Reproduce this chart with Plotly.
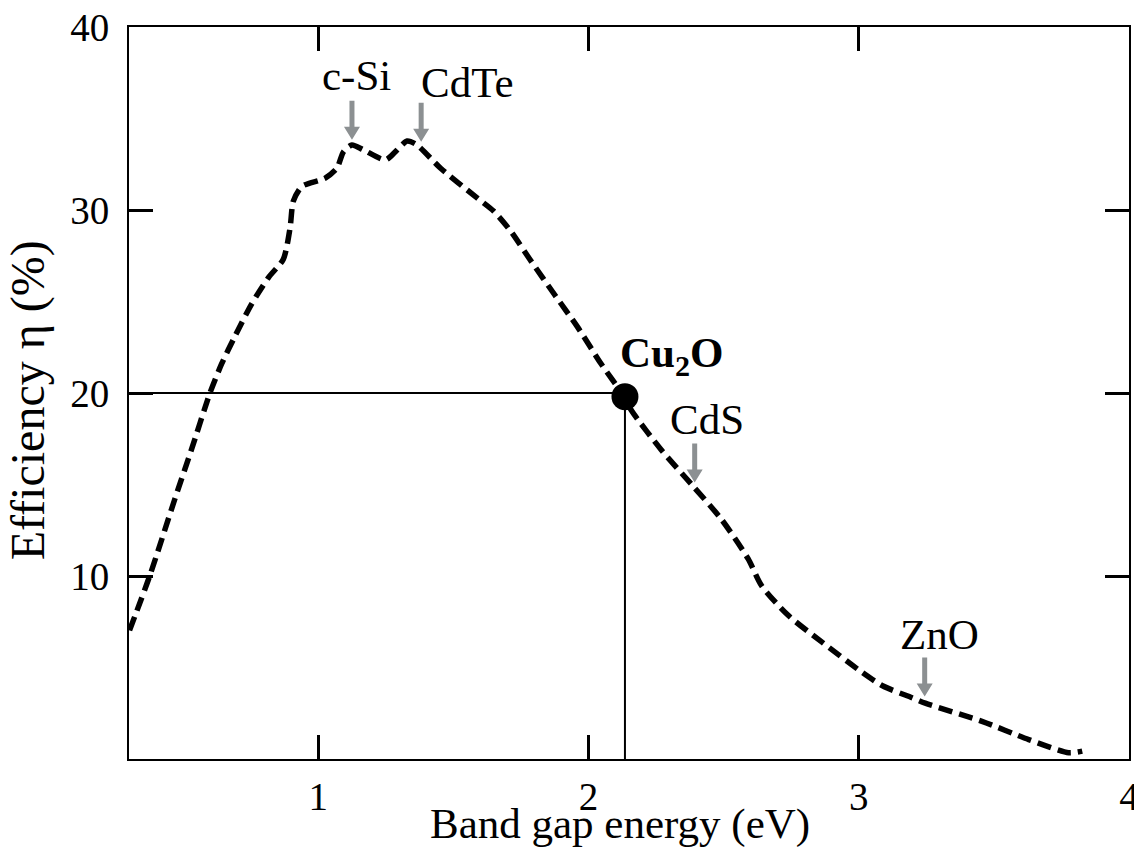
import plotly.graph_objects as go

# Efficiency limit vs band gap
gap_ev = [0.302, 0.377, 0.469, 0.531, 0.599, 0.643, 0.692, 0.754, 0.816, 0.871,
          0.896, 0.908, 0.940, 1.026, 1.069, 1.094, 1.125, 1.168, 1.249, 1.286,
          1.329, 1.366, 1.453, 1.589, 1.650, 1.712, 1.787, 1.873, 1.960, 2.046,
          2.133, 2.158, 2.269, 2.387, 2.492, 2.591, 2.640, 2.739, 2.863, 3.011,
          3.088, 3.197, 3.246, 3.456, 3.629, 3.777, 3.827]
efficiency = [7.03, 10.02, 14.18, 16.90, 19.98, 21.60, 23.10, 24.87, 26.31, 27.31,
              29.03, 30.48, 31.29, 31.74, 32.28, 33.19, 33.55, 33.28, 32.74, 33.19,
              33.77, 33.55, 32.28, 30.65, 29.93, 28.85, 27.22, 25.41, 23.60, 21.61,
              19.79, 19.07, 16.90, 14.91, 13.10, 10.93, 9.48, 7.85, 6.40, 4.75,
              4.00, 3.35, 3.05, 2.06, 1.06, 0.34, 0.43]

# Cu2O highlighted point
cu2o_gap = 2.135
cu2o_eff = 19.8

# Materials marked with arrows
materials = ["c-Si", "CdTe", "CdS", "ZnO"]
material_gap = [1.125, 1.381, 2.393, 3.244]
material_eff = [33.84, 33.73, 15.11, 3.42]
label_x = [1.141, 1.553, 2.440, 3.297]
label_y = [37.34, 36.96, 18.53, 6.80]

x_ticks = [1, 2, 3, 4]
y_ticks = [10, 20, 30, 40]

x_title = "Band gap energy (eV)"
y_title = "Efficiency η (%)"

FONT = "Liberation Serif"
ARROW_GRAY = "#8c9092"
fig = go.Figure()

fig.add_trace(go.Scatter(
    x=gap_ev, y=efficiency, mode="lines",
    line=dict(color="black", width=5.5, dash="14px,7px", shape="spline", smoothing=0.7),
    showlegend=False, hoverinfo="skip"))

fig.add_trace(go.Scatter(
    x=[0.3, cu2o_gap], y=[20, 20], mode="lines",
    line=dict(color="black", width=2), showlegend=False, hoverinfo="skip"))
fig.add_trace(go.Scatter(
    x=[cu2o_gap, cu2o_gap], y=[0, cu2o_eff], mode="lines",
    line=dict(color="black", width=2), showlegend=False, hoverinfo="skip"))
fig.add_trace(go.Scatter(
    x=[cu2o_gap], y=[cu2o_eff], mode="markers",
    marker=dict(color="black", size=27), showlegend=False, hoverinfo="skip"))

# arrow glyph in pixels relative to its tip
arrow_path = "M0,0 L-8,13 L-2.5,13 L-2.5,39 L2.5,39 L2.5,13 L8,13 Z"
shapes = []
annotations = []
for name, gx, gy, lx, ly in zip(materials, material_gap, material_eff, label_x, label_y):
    shapes.append(dict(type="path", xref="x", yref="y", xsizemode="pixel", ysizemode="pixel",
                       xanchor=gx, yanchor=gy, path=arrow_path,
                       fillcolor=ARROW_GRAY, line=dict(width=0)))
    annotations.append(dict(x=lx, y=ly, xref="x", yref="y", text=name, showarrow=False,
                            xanchor="center", yanchor="middle",
                            font=dict(family=FONT, size=43, color="black")))
annotations.append(dict(x=2.306, y=22.0, xref="x", yref="y",
                        text="<b>Cu<sub>2</sub>O</b>", showarrow=False,
                        xanchor="center", yanchor="middle",
                        font=dict(family=FONT, size=43, color="black")))
# axis titles
annotations.append(dict(x=0.491, y=-0.089, xref="paper", yref="paper", text=x_title,
                        showarrow=False, xanchor="center", yanchor="middle",
                        font=dict(family=FONT, size=43, color="black")))
annotations.append(dict(x=-0.101, y=0.49, xref="paper", yref="paper", text=y_title,
                        showarrow=False, xanchor="center", yanchor="middle", textangle=-90,
                        font=dict(family=FONT, size=48, color="black")))

fig.update_layout(
    width=1142, height=848,
    margin=dict(l=121, r=21, t=19, b=97),
    plot_bgcolor="white", paper_bgcolor="white",
    font=dict(family=FONT, color="black"),
    annotations=annotations,
    shapes=shapes,
    xaxis=dict(range=[0.3, 4.0], tickvals=x_ticks, ticktext=[str(v) for v in x_ticks],
               ticks="inside", ticklen=24, tickwidth=3, tickcolor="black",
               showline=True, linecolor="black", linewidth=2, mirror="ticks",
               showgrid=False, zeroline=False, automargin=False,
               ticklabeloverflow="allow",
               tickfont=dict(family=FONT, size=39), ticklabelstandoff=2),
    yaxis=dict(range=[0, 40], tickvals=y_ticks, ticktext=[str(v) for v in y_ticks],
               ticks="inside", ticklen=24, tickwidth=3, tickcolor="black",
               showline=True, linecolor="black", linewidth=2, mirror="ticks",
               showgrid=False, zeroline=False, automargin=False,
               ticklabeloverflow="allow",
               tickfont=dict(family=FONT, size=39), ticklabelstandoff=10),
)

fig.write_html("out.html")
